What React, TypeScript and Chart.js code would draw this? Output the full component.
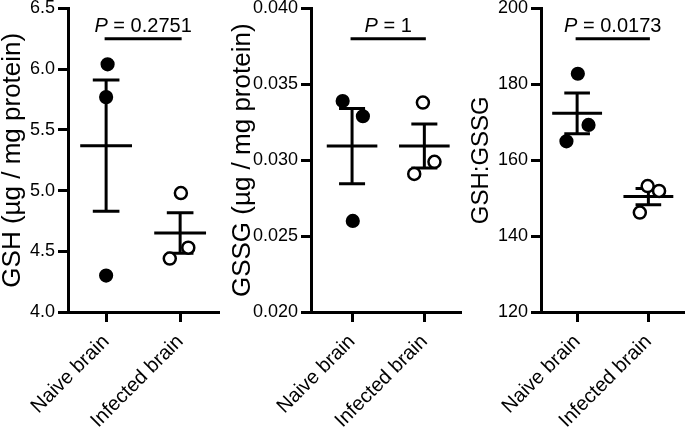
import React, { useEffect, useRef } from "react";
import { Chart, registerables } from "chart.js";

Chart.register(...registerables);

// ---------------- data ----------------
const categories = ["Naive brain", "Infected brain"];

const gshNaive = [6.04, 5.77, 4.3];
const gshInfected = [4.98, 4.53, 4.44];
const gshNaiveJitter = [0.02, 0.0, 0.0];
const gshInfectedJitter = [0.01, 0.11, -0.14];

const gssgNaive = [0.0339, 0.0329, 0.026];
const gssgInfected = [0.0338, 0.0299, 0.0291];
const gssgNaiveJitter = [-0.13, 0.15, 0.01];
const gssgInfectedJitter = [-0.02, 0.14, -0.14];

const ratioNaive = [182.8, 169.3, 165.0];
const ratioInfected = [153.2, 151.9, 146.2];
const ratioNaiveJitter = [0.01, 0.16, -0.15];
const ratioInfectedJitter = [-0.01, 0.15, -0.12];

const yTitles = ["GSH (µg / mg protein)", "GSSG (µg / mg protein)", "GSH:GSSG"];
const yMins = [4.0, 0.02, 120];
const yMaxs = [6.5, 0.04, 200];
const ySteps = [0.5, 0.005, 20];
const yDecimals = [1, 3, 0];
const pValues = ["0.2751", "1", "0.0173"];
const bracketLevels = [6.25, 0.038, 192];

// ---------------- layout / style ----------------
const FONT = '"Liberation Sans", Arial, Helvetica, sans-serif';
const PANELS = [
  { left: 0, width: 231, axisW: 68, padRight: 12, padTop: 7, xMin: -0.515, xMax: 1.525, titleSize: 26 },
  { left: 230, width: 240, axisW: 81, padRight: 5, padTop: 6, xMin: -0.568, xMax: 1.514, titleSize: 26 },
  { left: 469, width: 224, axisW: 72, padRight: 1, padTop: 6, xMin: -0.507, xMax: 1.507, titleSize: 24 },
];
const MEAN_HALF = 0.35;
const CAP_HALF = 0.18;

function mean(v: number[]) {
  return v.reduce((a, b) => a + b, 0) / v.length;
}
function sem(v: number[]) {
  const m = mean(v);
  const ss = v.reduce((a, b) => a + (b - m) * (b - m), 0);
  return Math.sqrt(ss / (v.length - 1)) / Math.sqrt(v.length);
}

function statSegments(vals: number[], c: number) {
  const m = mean(vals);
  const s = sem(vals);
  return [
    { x: c - MEAN_HALF, y: m },
    { x: c + MEAN_HALF, y: m },
    { x: c, y: null },
    { x: c - CAP_HALF, y: m + s },
    { x: c + CAP_HALF, y: m + s },
    { x: c, y: null },
    { x: c - CAP_HALF, y: m - s },
    { x: c + CAP_HALF, y: m - s },
    { x: c, y: null },
    { x: c, y: m + s },
    { x: c, y: m - s },
    { x: c, y: null },
  ];
}

const pTextPlugin = {
  id: "pText",
  afterDraw(chart: any, _args: any, opts: any) {
    const { ctx } = chart;
    const xs = chart.scales.x;
    const ys = chart.scales.y;
    const cx = xs.getPixelForValue(0.5);
    const by = ys.getPixelForValue(opts.bracket) - 7;
    const italic = `italic 20px ${FONT}`;
    const normal = `20px ${FONT}`;
    ctx.save();
    ctx.fillStyle = "#000";
    ctx.textAlign = "left";
    ctx.textBaseline = "alphabetic";
    ctx.font = italic;
    const w1 = ctx.measureText("P").width;
    const rest = " = " + opts.value;
    ctx.font = normal;
    const w2 = ctx.measureText(rest).width;
    const sx = cx - (w1 + w2) / 2;
    ctx.font = italic;
    ctx.fillText("P", sx, by);
    ctx.font = normal;
    ctx.fillText(rest, sx + w1, by);
    ctx.restore();
  },
};

type PanelProps = {
  idx: number;
  naive: number[];
  infected: number[];
  jn: number[];
  ji: number[];
};

function Panel({ idx, naive, infected, jn, ji }: PanelProps) {
  const ref = useRef<HTMLCanvasElement | null>(null);
  const p = PANELS[idx];
  useEffect(() => {
    if (!ref.current) return;
    const axisStyle = {
      grid: {
        drawOnChartArea: false,
        drawTicks: true,
        tickLength: 10,
        tickWidth: 3,
        tickColor: "#000",
      },
      border: { display: true, color: "#000", width: 3 },
    };
    const chart = new Chart(ref.current, {
      type: "scatter",
      data: {
        datasets: [
          {
            label: categories[0],
            data: naive.map((v, i) => ({ x: 0 + jn[i], y: v })),
            pointRadius: 6,
            pointBackgroundColor: "#000",
            pointBorderColor: "#000",
            pointBorderWidth: 2.2,
            showLine: false,
            order: 0,
          },
          {
            label: categories[1],
            data: infected.map((v, i) => ({ x: 1 + ji[i], y: v })),
            pointRadius: 6,
            pointBackgroundColor: "#fff",
            pointBorderColor: "#000",
            pointBorderWidth: 2.5,
            showLine: false,
            order: 0,
          },
          {
            label: "mean ± SEM",
            data: [...statSegments(naive, 0), ...statSegments(infected, 1)] as any,
            showLine: true,
            spanGaps: false,
            borderColor: "#000",
            borderWidth: 3,
            pointRadius: 0,
            borderCapStyle: "butt",
            order: 2,
          },
          {
            label: "bracket",
            data: [
              { x: 0, y: bracketLevels[idx] },
              { x: 1, y: bracketLevels[idx] },
            ],
            showLine: true,
            borderColor: "#000",
            borderWidth: 3,
            pointRadius: 0,
            borderCapStyle: "square",
            order: 2,
          },
        ],
      },
      options: {
        responsive: false,
        animation: false,
        events: [],
        layout: { padding: { left: 0, right: p.padRight, top: p.padTop, bottom: 0 } },
        plugins: {
          legend: { display: false },
          tooltip: { enabled: false },
          pText: { value: pValues[idx], bracket: bracketLevels[idx] },
        } as any,
        scales: {
          x: {
            type: "linear",
            min: p.xMin,
            max: p.xMax,
            afterBuildTicks: (s: any) => {
              s.ticks = [{ value: 0 }, { value: 1 }];
            },
            afterFit: (s: any) => {
              s.height = 430 - 312;
              s.paddingLeft = 0;
              s.paddingRight = 0;
            },
            ticks: {
              autoSkip: false,
              minRotation: 45,
              maxRotation: 45,
              padding: 8,
              color: "#000",
              font: { family: FONT, size: 20 },
              callback: (v: any) => categories[v as number] ?? "",
            },
            ...axisStyle,
          },
          y: {
            type: "linear",
            min: yMins[idx],
            max: yMaxs[idx],
            afterFit: (s: any) => {
              s.width = p.axisW;
              s.paddingTop = 0;
              s.paddingBottom = 0;
            },
            ticks: {
              stepSize: ySteps[idx],
              padding: 3,
              color: "#000",
              font: { family: FONT, size: 18 },
              callback: (v: any) => Number(v).toFixed(yDecimals[idx]),
            },
            title: {
              display: true,
              text: yTitles[idx],
              color: "#000",
              padding: 0,
              font: { family: FONT, size: p.titleSize, lineHeight: 1.0 },
            },
            ...axisStyle,
          },
        },
      } as any,
      plugins: [pTextPlugin as any],
    });
    return () => chart.destroy();
  }, []);
  return (
    <canvas
      ref={ref}
      width={p.width}
      height={430}
      style={{ position: "absolute", left: p.left, top: 0, width: p.width, height: 430 }}
    />
  );
}

export default function App() {
  return (
    <div
      style={{
        position: "fixed",
        left: 0,
        top: 0,
        width: 693,
        height: 430,
        background: "#fff",
        overflow: "hidden",
      }}
    >
      <Panel idx={0} naive={gshNaive} infected={gshInfected} jn={gshNaiveJitter} ji={gshInfectedJitter} />
      <Panel idx={1} naive={gssgNaive} infected={gssgInfected} jn={gssgNaiveJitter} ji={gssgInfectedJitter} />
      <Panel idx={2} naive={ratioNaive} infected={ratioInfected} jn={ratioNaiveJitter} ji={ratioInfectedJitter} />
    </div>
  );
}
